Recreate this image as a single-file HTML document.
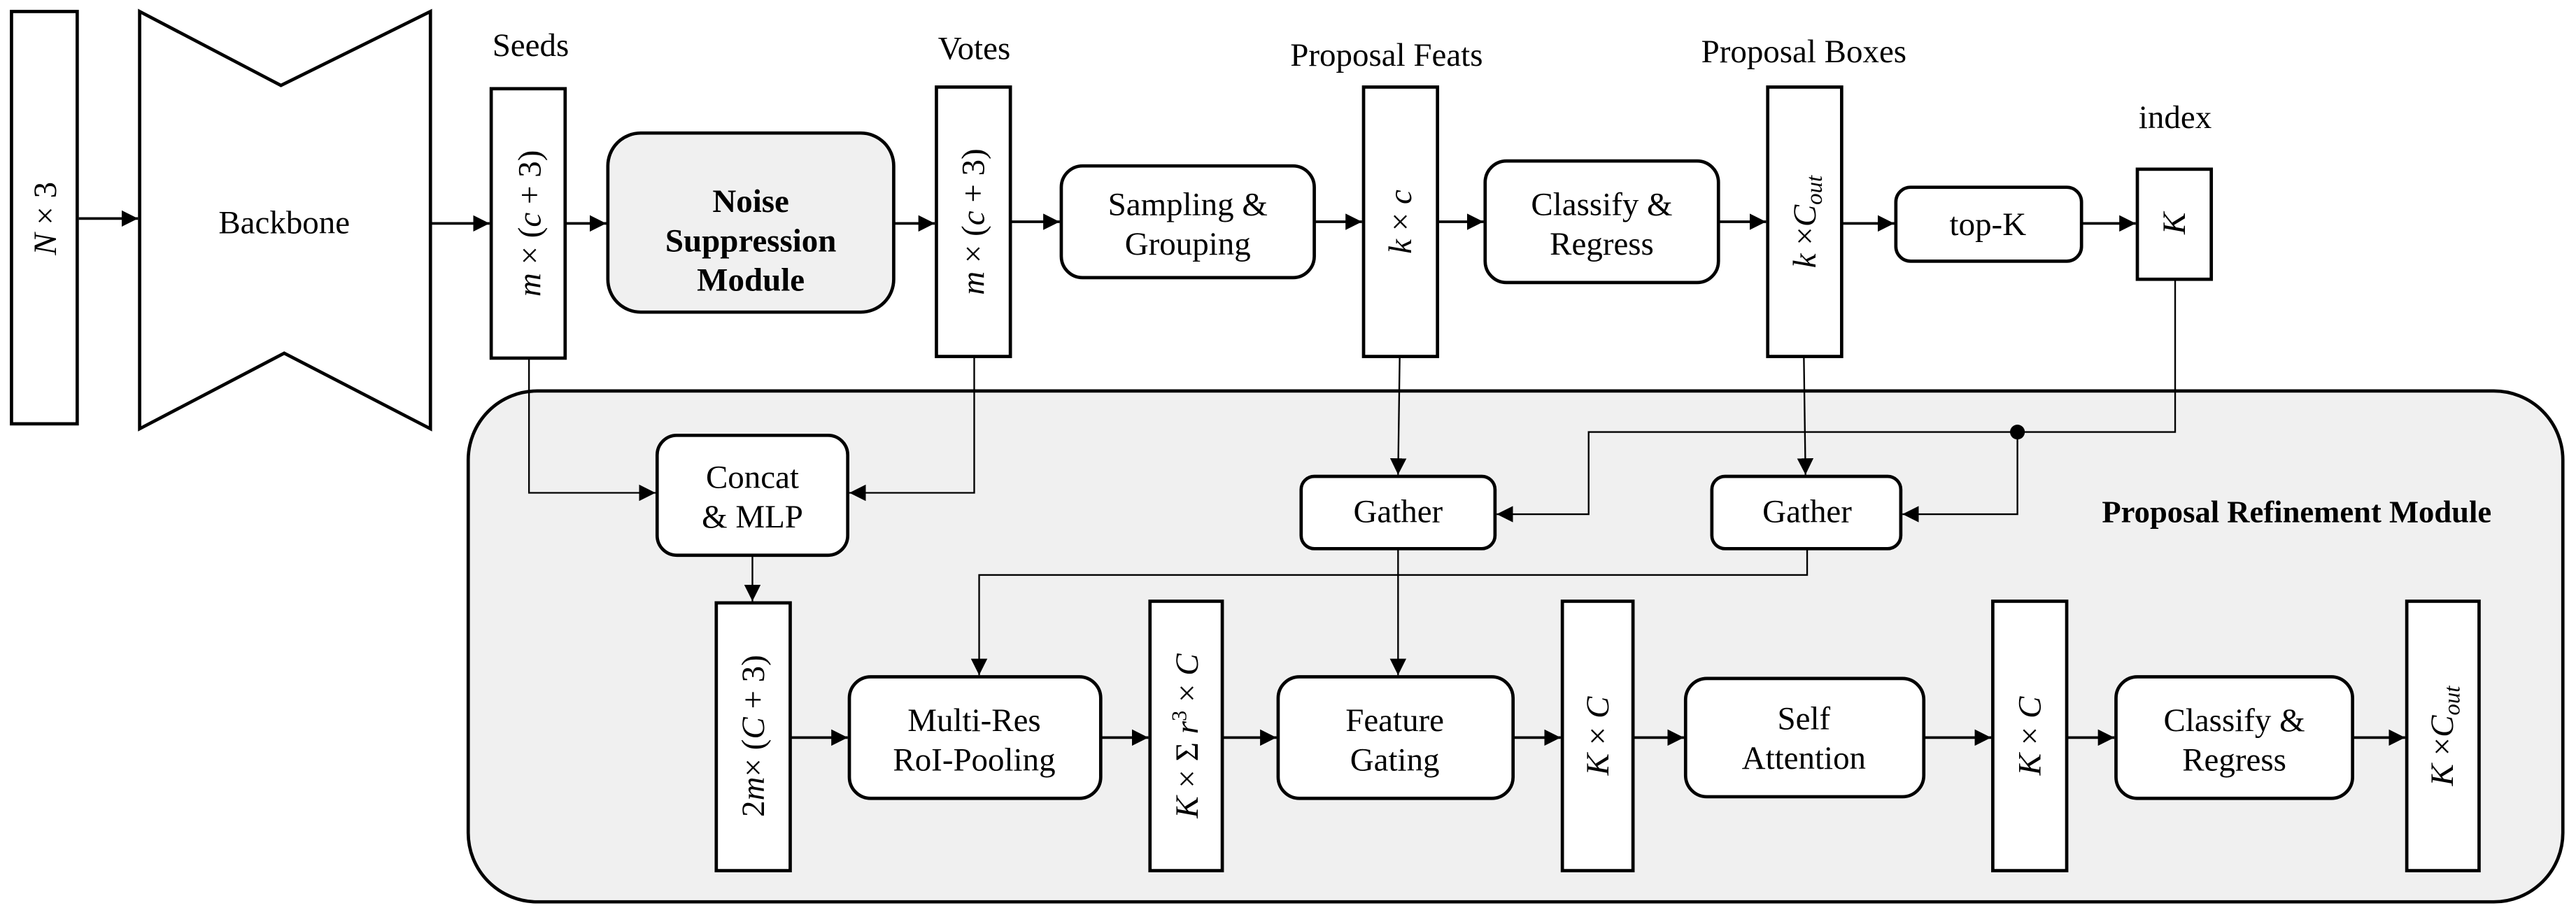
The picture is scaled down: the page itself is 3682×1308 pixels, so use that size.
<!DOCTYPE html>
<html><head><style>html,body{margin:0;padding:0;background:#fff}svg{display:block}svg text{font-family:"Liberation Serif",serif}</style></head>
<body>
<svg xmlns="http://www.w3.org/2000/svg" width="3682" height="1308" viewBox="0 0 1568 557" preserveAspectRatio="none" font-family="'Liberation Serif', serif" font-size="19">
<defs>
<marker id="a" viewBox="0 0 10 10" refX="10" refY="5" markerWidth="10" markerHeight="10" markerUnits="userSpaceOnUse" orient="auto"><path d="M0,0L10,5L0,10z" fill="#000"/></marker>
</defs>
<rect width="1568" height="557" fill="#fff"/>
<rect x="285" y="238" width="1275" height="311" rx="42" fill="#f0f0f0" stroke="#000" stroke-width="2"/>
<text x="1398" y="318" text-anchor="middle" font-weight="bold" font-size="19">Proposal Refinement Module</text>

<g fill="#fff" stroke="#000" stroke-width="2">
<rect x="7" y="7" width="40" height="251"/>
<polygon points="85,7 171,52 262,7 262,261 173,215 85,261"/>
<rect x="299" y="54" width="45" height="164"/>
<rect x="370" y="81" width="174" height="109" rx="20" fill="#f0f0f0"/>
<rect x="570" y="53" width="45" height="164"/>
<rect x="646" y="101" width="154" height="68" rx="13"/>
<rect x="830" y="53" width="45" height="164"/>
<rect x="904" y="98" width="142" height="74" rx="13"/>
<rect x="1076" y="53" width="45" height="164"/>
<rect x="1154" y="114" width="113" height="45" rx="9"/>
<rect x="1301" y="103" width="45" height="67"/>
<rect x="400" y="265" width="116" height="73" rx="12"/>
<rect x="792" y="290" width="118" height="44" rx="8"/>
<rect x="1042" y="290" width="115" height="44" rx="8"/>
<rect x="436" y="367" width="45" height="163"/>
<rect x="517" y="412" width="153" height="74" rx="13"/>
<rect x="700" y="366" width="44" height="164"/>
<rect x="778" y="412" width="143" height="74" rx="13"/>
<rect x="951" y="366" width="43" height="164"/>
<rect x="1026" y="413" width="145" height="72" rx="13"/>
<rect x="1213" y="366" width="45" height="164"/>
<rect x="1288" y="412" width="144" height="74" rx="13"/>
<rect x="1465" y="366" width="44" height="164"/>
</g>

<g stroke="#000" stroke-width="1.6" fill="none" marker-end="url(#a)">
<line x1="48" y1="133" x2="84" y2="133"/>
<line x1="262" y1="136" x2="298" y2="136"/>
<line x1="344" y1="136" x2="369" y2="136"/>
<line x1="544" y1="136" x2="569" y2="136"/>
<line x1="615" y1="135" x2="645" y2="135"/>
<line x1="800" y1="135" x2="829" y2="135"/>
<line x1="875" y1="135" x2="903" y2="135"/>
<line x1="1046" y1="135" x2="1075" y2="135"/>
<line x1="1121" y1="136" x2="1153" y2="136"/>
<line x1="1267" y1="136" x2="1300" y2="136"/>
<line x1="481" y1="449" x2="516" y2="449"/>
<line x1="670" y1="449" x2="699" y2="449"/>
<line x1="744" y1="449" x2="777" y2="449"/>
<line x1="921" y1="449" x2="950" y2="449"/>
<line x1="994" y1="449" x2="1025" y2="449"/>
<line x1="1171" y1="449" x2="1212" y2="449"/>
<line x1="1258" y1="449" x2="1287" y2="449"/>
<line x1="1432" y1="449" x2="1464" y2="449"/>
</g>
<g stroke="#000" stroke-width="1" fill="none" marker-end="url(#a)">
<polyline points="322,218 322,300 399,300"/>
<polyline points="593,217 593,300 517,300"/>
<line x1="852" y1="217" x2="851" y2="289"/>
<line x1="1098" y1="217" x2="1099" y2="289"/>
<polyline points="1324,170 1324,263 967,263 967,313 911,313"/>
<polyline points="1228,263 1228,313 1158,313"/>
<line x1="458" y1="338" x2="458" y2="366"/>
<polyline points="1100,334 1100,350 596,350 596,411"/>
<line x1="851" y1="334" x2="851" y2="411"/>
</g>
<circle cx="1228" cy="263" r="4.5" fill="#000"/>

<g text-anchor="middle" font-size="20">
<text x="323" y="34">Seeds</text>
<text x="593" y="36">Votes</text>
<text x="844" y="40">Proposal Feats</text>
<text x="1098" y="38">Proposal Boxes</text>
<text x="1324" y="78">index</text>
<text x="173" y="142">Backbone</text>
<text x="457" y="129" font-weight="bold">Noise</text>
<text x="457" y="153" font-weight="bold">Suppression</text>
<text x="457" y="177" font-weight="bold">Module</text>
<text x="723" y="131">Sampling &amp;</text>
<text x="723" y="155">Grouping</text>
<text x="975" y="131">Classify &amp;</text>
<text x="975" y="155">Regress</text>
<text x="1210" y="143">top-K</text>
<text x="458" y="297">Concat</text>
<text x="458" y="321">&amp; MLP</text>
<text x="851" y="318">Gather</text>
<text x="1100" y="318">Gather</text>
<text x="593" y="445">Multi-Res</text>
<text x="593" y="469">RoI-Pooling</text>
<text x="849" y="445">Feature</text>
<text x="849" y="469">Gating</text>
<text x="1098" y="444">Self</text>
<text x="1098" y="468">Attention</text>
<text x="1360" y="445">Classify &amp;</text>
<text x="1360" y="469">Regress</text>
</g>
<g text-anchor="middle" font-size="20">
<text transform="translate(34,133) rotate(-90)"><tspan font-style="italic">N</tspan> × 3</text>
<text transform="translate(329,136) rotate(-90)"><tspan font-style="italic">m</tspan> × (<tspan font-style="italic">c</tspan> + 3)</text>
<text transform="translate(599,135) rotate(-90)"><tspan font-style="italic">m</tspan> × (<tspan font-style="italic">c</tspan> + 3)</text>
<text transform="translate(859,135) rotate(-90)"><tspan font-style="italic">k</tspan> × <tspan font-style="italic">c</tspan></text>
<text transform="translate(1105,135) rotate(-90)"><tspan font-style="italic">k</tspan> ×<tspan font-style="italic">C<tspan font-size="14" dy="4">out</tspan></tspan></text>
<text transform="translate(1330,136) rotate(-90)" font-style="italic">K</text>
<text transform="translate(465,448) rotate(-90)">2<tspan font-style="italic">m</tspan>× (<tspan font-style="italic">C</tspan> + 3)</text>
<text transform="translate(729,448) rotate(-90)"><tspan font-style="italic">K</tspan> × Σ <tspan font-style="italic">r</tspan><tspan font-size="13" dy="-7">3</tspan><tspan dy="7"> × </tspan><tspan font-style="italic">C</tspan></text>
<text transform="translate(979,448) rotate(-90)"><tspan font-style="italic">K</tspan> × <tspan font-style="italic">C</tspan></text>
<text transform="translate(1242,448) rotate(-90)"><tspan font-style="italic">K</tspan> × <tspan font-style="italic">C</tspan></text>
<text transform="translate(1493,448) rotate(-90)"><tspan font-style="italic">K</tspan> ×<tspan font-style="italic">C<tspan font-size="14" dy="4">out</tspan></tspan></text>
</g>
</svg>
</body></html>
